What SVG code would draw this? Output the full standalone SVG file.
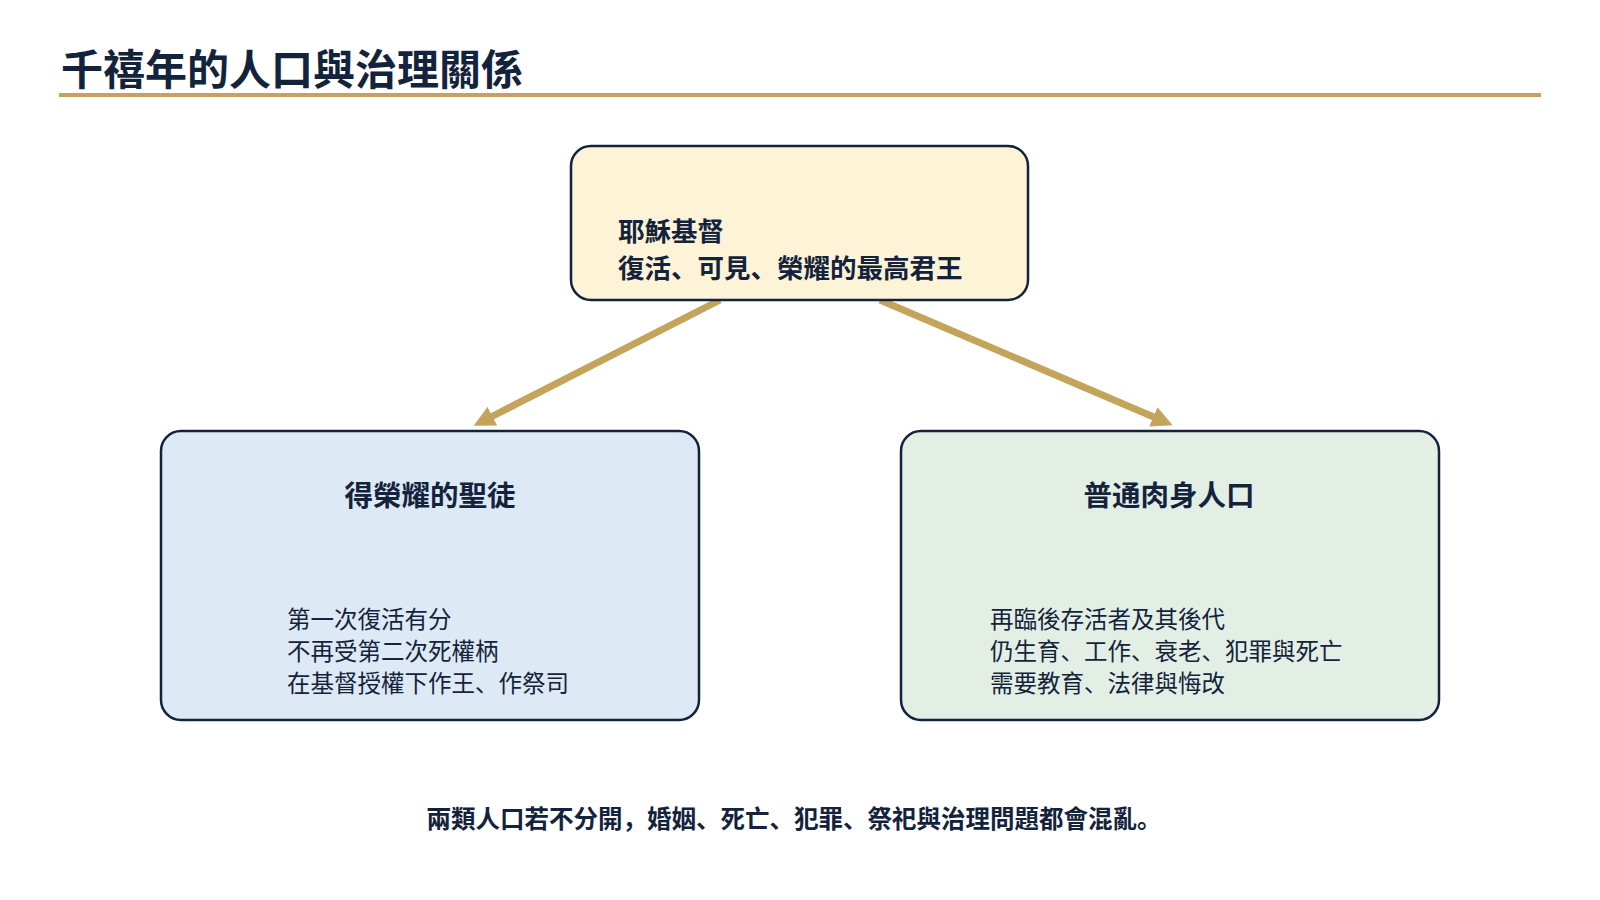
<svg xmlns="http://www.w3.org/2000/svg" width="1600" height="900" viewBox="0 0 1600 900">
<style>
text{font-family:"Noto Sans CJK SC","Noto Sans CJK TC",sans-serif;fill:#14233c}
.b{font-weight:bold}
.box{stroke:#14233c;stroke-width:2.5}
.c{stroke:#c4a35a;stroke-width:7;fill:none}
</style>
<defs><marker id="ah" markerWidth="3" markerHeight="3" refX="1.5" refY="1.5" orient="auto" markerUnits="strokeWidth"><path d="M0,0 L3,1.5 L0,3 z" fill="#c4a35a"/></marker></defs>
<rect width="1600" height="900" fill="#fff"/>
<text x="61" y="85" font-size="42" class="b">千禧年的人口與治理關係</text>
<rect x="59" y="93" width="1482" height="4" fill="#c4a35a"/>
<g id="connectors">
<line class="c" x1="720" y1="300" x2="483" y2="421" marker-end="url(#ah)"/>
<line class="c" x1="880" y1="300" x2="1163" y2="421" marker-end="url(#ah)"/>
</g>
<g id="top"><rect class="box" x="571" y="146" width="457" height="154" rx="20" fill="#fdf3d7"/>
<text x="618" y="241" font-size="26.5" class="b">耶穌基督</text>
<text x="618" y="278" font-size="26.5" class="b">復活、可見、榮耀的最高君王</text></g>
<g id="left"><rect class="box" x="161" y="431" width="538" height="289" rx="20" fill="#dde9f5"/>
<text x="430" y="506" font-size="28.5" class="b" text-anchor="middle">得榮耀的聖徒</text>
<text x="287" y="628" font-size="23.5">第一次復活有分</text>
<text x="287" y="660" font-size="23.5">不再受第二次死權柄</text>
<text x="287" y="692" font-size="23.5">在基督授權下作王、作祭司</text></g>
<g id="right"><rect class="box" x="901" y="431" width="538" height="289" rx="20" fill="#e3efe5"/>
<text x="1169" y="506" font-size="28.5" class="b" text-anchor="middle">普通肉身人口</text>
<text x="990" y="628" font-size="23.5">再臨後存活者及其後代</text>
<text x="990" y="660" font-size="23.5">仍生育、工作、衰老、犯罪與死亡</text>
<text x="990" y="692" font-size="23.5">需要教育、法律與悔改</text></g>
<text x="794" y="828" font-size="24.5" class="b" text-anchor="middle">兩類人口若不分開，婚姻、死亡、犯罪、祭祀與治理問題都會混亂。</text>
</svg>
